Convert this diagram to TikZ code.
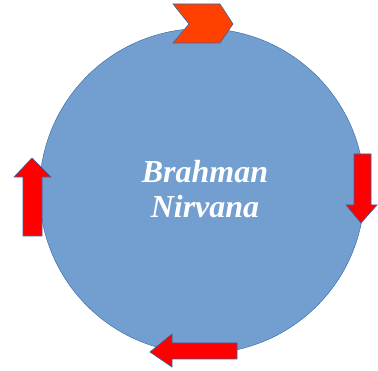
\documentclass[tikz,border=0pt]{standalone}
\usepackage{fontspec}
\setmainfont{Liberation Serif}
\usepackage{tikz}
\usetikzlibrary{positioning, calc}
\definecolor{wheelblue}{RGB}{114, 159, 207}
\definecolor{edgeblue}{RGB}{52, 101, 164}
\definecolor{arrowred}{RGB}{255, 0, 0}
\definecolor{chevronorange}{RGB}{255, 64, 0}
\tikzset{
  wheel/.style={circle, draw=edgeblue, fill=wheelblue, minimum size=325pt,
              inner sep=0pt},
  wheeltext/.style={text=white, align=center,
              font=\fontsize{32}{35}\selectfont\bfseries\itshape},
  blockarrow/.style={draw=edgeblue, fill=arrowred, line width=0.6pt},
  chevron/.style={draw=edgeblue, fill=chevronorange, line width=0.6pt},
}
\begin{document}
\begin{tikzpicture}[x=1pt, y=-1pt]
  \useasboundingbox (0,0) rectangle (378,371);

  \node[wheel] (cycle) at (202,191) {};
  \node[wheeltext] (name) at (205,189) {Brahman\\Nirvana};

  % chevron on top
  \draw[chevron] (173,4) -- (220,4) -- (233,24) -- (220,43) -- (173,43) -- (189,24) -- cycle;
  % right, pointing down
  \draw[blockarrow] (354,154) -- (371,154) -- (371,205) -- (377,205) -- (361,223)
        -- (346,205) -- (354,205) -- cycle;
  % bottom, pointing left
  \draw[blockarrow] (237,343) -- (172,343) -- (172,334) -- (150,352) -- (172,367)
        -- (172,359) -- (237,359) -- cycle;
  % left, pointing up
  \draw[blockarrow] (23,236) -- (23,177) -- (14,177) -- (32,158) -- (51,177)
        -- (42,177) -- (42,236) -- cycle;
\end{tikzpicture}
\end{document}
